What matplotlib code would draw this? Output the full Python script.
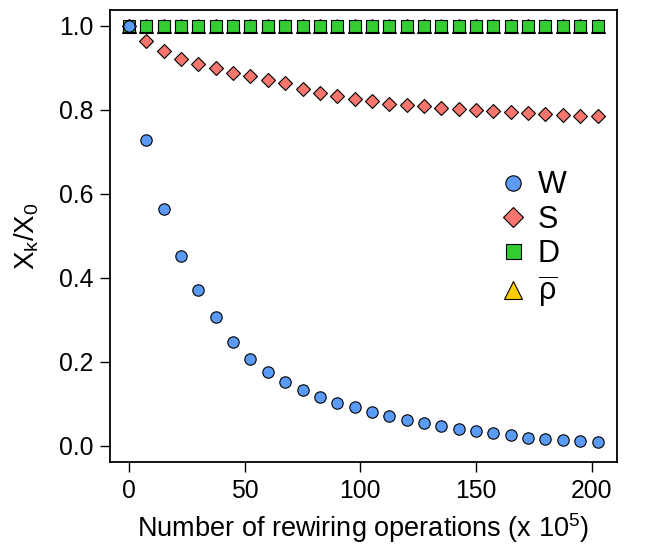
import numpy as np
import matplotlib
matplotlib.use("Agg")
import matplotlib.pyplot as plt

plt.rcParams['font.family'] = ['Liberation Sans', 'DejaVu Sans']
plt.rcParams['mathtext.fontset'] = 'custom'
plt.rcParams['mathtext.rm'] = 'Liberation Sans'
plt.rcParams['mathtext.it'] = 'Liberation Sans:italic'

# operaciones de recableado (x 10^5)
ops = [0, 7.5, 15, 22.5, 30, 37.5, 45, 52.5, 60, 67.5, 75, 82.5, 90, 97.5,
       105, 112.5, 120, 127.5, 135, 142.5, 150, 157.5, 165, 172.5, 180,
       187.5, 195, 202.5]

# series normalizadas X_k / X_0
W = [1.0, 0.729, 0.564, 0.453, 0.371, 0.306, 0.248, 0.206, 0.176, 0.152,
     0.133, 0.117, 0.103, 0.092, 0.080, 0.071, 0.062, 0.055, 0.048, 0.041,
     0.036, 0.030, 0.025, 0.020, 0.017, 0.014, 0.011, 0.009]
S = [1.0, 0.963, 0.939, 0.921, 0.909, 0.898, 0.887, 0.879, 0.871, 0.863,
     0.850, 0.840, 0.832, 0.825, 0.821, 0.814, 0.811, 0.808, 0.805, 0.802,
     0.800, 0.797, 0.794, 0.792, 0.789, 0.787, 0.786, 0.784]
D = [1.0] * len(ops)
rho = [1.0] * len(ops)

fig = plt.figure(figsize=(6.54, 5.53), dpi=100)
ax = fig.add_axes([0.1682, 0.1646, 0.7752, 0.8173])

ax.plot(ops, rho, ls='none', marker='^', ms=10, mfc='#FFCC00', mec='black', mew=0.8, label=r'$\mathregular{\overline{\rho}}$', zorder=3)
ax.plot(ops, D, ls='none', marker='s', ms=8, mfc='#33CC33', mec='black', mew=0.8, label='D', zorder=4)
ax.plot(ops, S, ls='none', marker='D', ms=7.5, mfc='#F8766D', mec='black', mew=0.8, label='S', zorder=5)
ax.plot(ops, W, ls='none', marker='o', ms=8.2, mfc='#5B9BF5', mec='black', mew=0.8, label='W', zorder=6)

ax.set_xlim(-8.2, 210.9)
ax.set_ylim(-0.038, 1.037)
ax.set_xticks([0, 50, 100, 150, 200])
ax.set_yticks([0.0, 0.2, 0.4, 0.6, 0.8, 1.0])
ax.set_yticklabels(['0.0', '0.2', '0.4', '0.6', '0.8', '1.0'])
ax.tick_params(direction='out', length=7, width=1, labelsize=17.8, pad=5)
for s in ax.spines.values():
    s.set_linewidth(1.3)

ax.set_xlabel(r'Number of rewiring operations (x 10$^{\mathregular{5}}$)', fontsize=19.5, labelpad=6)
ax.set_ylabel(r'$\mathregular{X_k/X_0}$', fontsize=20, labelpad=13)

handles, labels = ax.get_legend_handles_labels()
order = [3, 2, 1, 0]
ax.legend([handles[i] for i in order], [labels[i] for i in order],
          loc='upper left', bbox_to_anchor=(0.765, 0.645), frameon=False,
          fontsize=22, handletextpad=0.3, labelspacing=0.14, markerscale=1.35,
          handlelength=1.0, borderaxespad=0, borderpad=0)

fig.savefig('out.png', dpi=100)
